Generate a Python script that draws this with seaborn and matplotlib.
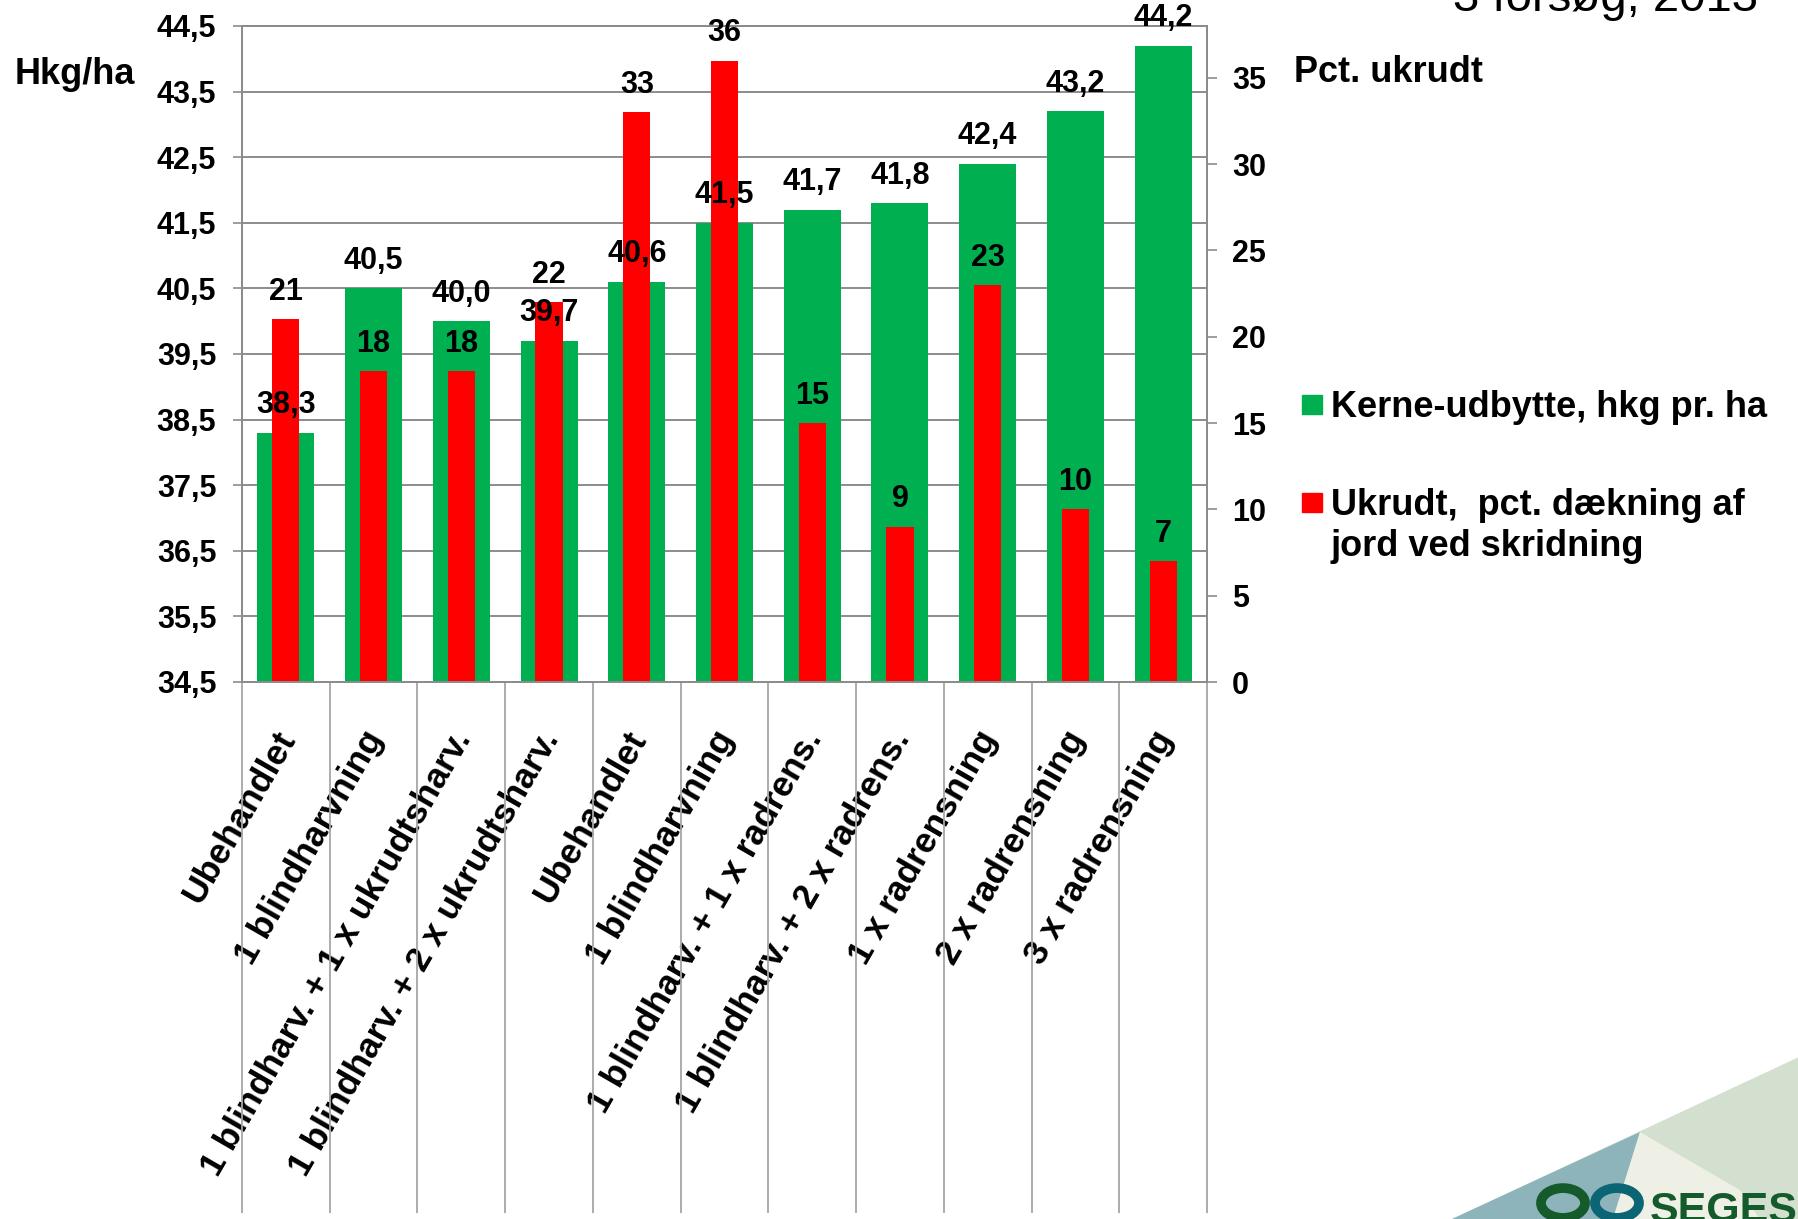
import numpy as np
import matplotlib
matplotlib.use("Agg")
import matplotlib.pyplot as plt
import matplotlib.transforms as mtransforms
from matplotlib.patches import Polygon, Rectangle, Circle
import seaborn as sns

# data
categories = ["Ubehandlet", "1 blindharvning", "1 blindharv. + 1 x ukrudtsharv.",
              "1 blindharv. + 2 x ukrudtsharv.", "Ubehandlet", "1 blindharvning",
              "1 blindharv. + 1 x radrens.", "1 blindharv. + 2 x radrens.",
              "1 x radrensning", "2 x radrensning", "3 x radrensning"]
yield_hkg = [38.3, 40.5, 40.0, 39.7, 40.6, 41.5, 41.7, 41.8, 42.4, 43.2, 44.2]
weed_pct = [21, 18, 18, 22, 33, 36, 15, 9, 23, 10, 7]
left_ticks = [34.5, 35.5, 36.5, 37.5, 38.5, 39.5, 40.5, 41.5, 42.5, 43.5, 44.5]
right_ticks = [0, 5, 10, 15, 20, 25, 30, 35]

GREEN = "#00B050"
RED = "#FF0000"
GRID = "#8c8c8c"
W, H = 1799, 1219

sns.set_theme(style="white")
plt.rcParams["font.family"] = ["Liberation Sans", "DejaVu Sans"]
plt.rcParams["font.weight"] = "bold"
plt.rcParams["text.color"] = "black"
plt.rcParams["xtick.color"] = "black"
plt.rcParams["ytick.color"] = "black"
plt.rcParams["xtick.labelcolor"] = "black"
plt.rcParams["ytick.labelcolor"] = "black"

fig = plt.figure(figsize=(W / 100, H / 100), dpi=100)
ax = fig.add_axes([242 / W, 1 - 682 / H, (1207 - 242) / W, (682 - 26) / H])
ax2 = ax.twinx()

pos = np.arange(len(categories))
sns.barplot(x=pos, y=yield_hkg, ax=ax, color=GREEN, saturation=1, width=0.65, linewidth=0)
sns.barplot(x=pos, y=weed_pct, ax=ax2, color=RED, saturation=1, width=0.31, linewidth=0)

for a in (ax, ax2):
    a.set_xlim(-0.5, len(categories) - 0.5)
    a.set_xlabel("")
    a.set_ylabel("")

ax.set_ylim(34.5, 44.5)
ax2.set_ylim(0, 38)

# left axis + grid
ax.set_yticks(left_ticks)
ax.set_yticklabels([f"{t:.1f}".replace(".", ",") for t in left_ticks])
ax.yaxis.grid(True, color=GRID, linewidth=1.4)
ax.set_axisbelow(True)
ax.tick_params(axis="y", which="major", length=6.5, width=1.2, color=GRID, pad=12,
               labelsize=22, left=True, labelcolor="black")

# right axis
ax2.set_yticks(right_ticks)
ax2.tick_params(axis="y", length=7, width=1.2, color=GRID, pad=11, labelsize=22,
                right=True, labelcolor="black")
ax2.grid(False)

for a in (ax, ax2):
    for s in a.spines.values():
        s.set_color(GRID)
        s.set_linewidth(1.4)

# category labels and long separator ticks
ax.set_xticks(pos)
ax.set_xticklabels(categories, rotation=60, ha="right", va="center",
                   rotation_mode="anchor", fontsize=25.5)
ax.set_xticks(np.arange(-0.5, len(categories), 1), minor=True)
ax.tick_params(axis="x", which="major", length=0, pad=37, labelcolor="black")
ax.tick_params(axis="x", which="minor", length=382, width=1.3, color="#a6a6a6",
               direction="out", bottom=True)
shift = mtransforms.ScaledTranslation(2 / 100, 0, fig.dpi_scale_trans)
for lab in ax.get_xticklabels():
    lab.set_transform(lab.get_transform() + shift)

# value labels (drawn on the top axes so they sit above all bars)
for i, v in enumerate(yield_hkg):
    ax2.annotate(f"{v:.1f}".replace(".", ","), xy=(i, v), xycoords=ax.transData,
                 xytext=(0, 14), textcoords="offset points", ha="center",
                 va="baseline", fontsize=22, color="black", annotation_clip=False)
for i, v in enumerate(weed_pct):
    ax2.annotate(f"{v}", xy=(i, v), xycoords=ax2.transData,
                 xytext=(0, 14), textcoords="offset points", ha="center",
                 va="baseline", fontsize=22, color="black", annotation_clip=False)

# axis titles
fig.text(15 / W, 1 - 84 / H, "Hkg/ha", fontsize=26, va="baseline", ha="left")
fig.text(1294 / W, 1 - 82 / H, "Pct. ukrudt", fontsize=26, va="baseline", ha="left")
fig.text(1453 / W, 1 - 11 / H, "3 forsøg, 2013", fontsize=34, fontweight="normal",
         va="baseline", ha="left")

# legend
fig.patches.append(Rectangle((1302 / W, 1 - 414 / H), 20 / W, 19 / H,
                             transform=fig.transFigure, color=GREEN))
fig.text(1331 / W, 1 - 417 / H, "Kerne-udbytte, hkg pr. ha", fontsize=26, va="baseline")
fig.patches.append(Rectangle((1302 / W, 1 - 512 / H), 20 / W, 19 / H,
                             transform=fig.transFigure, color=RED))
fig.text(1331 / W, 1 - 515 / H, "Ukrudt,  pct. dækning af", fontsize=26, va="baseline")
fig.text(1331 / W, 1 - 556 / H, "jord ved skridning", fontsize=26, va="baseline")


# logo corner
def px(x, y):
    return (x / W, 1 - y / H)


fig.patches.append(Polygon([px(1452, 1219), px(1799, 1057), px(1799, 1219)],
                           closed=True, transform=fig.transFigure,
                           facecolor="#d3dfcf", edgecolor="none"))
fig.patches.append(Polygon([px(1452, 1219), px(1640, 1132), px(1613, 1219)],
                           closed=True, transform=fig.transFigure,
                           facecolor="#8db4ba", edgecolor="none"))
fig.patches.append(Polygon([px(1640, 1132), px(1613, 1219), px(1760, 1219), px(1740, 1190)],
                           closed=True, transform=fig.transFigure,
                           facecolor="#eef0e6", edgecolor="none"))
fig.patches.append(Circle(px(1563, 1203), 22 / W, transform=fig.transFigure,
                          facecolor="none", edgecolor="#145a2a", linewidth=7))
fig.patches.append(Circle(px(1617, 1203), 22 / W, transform=fig.transFigure,
                          facecolor="none", edgecolor="#0b6574", linewidth=7))
fig.text(1650 / W, 1 - 1222 / H, "SEGES", fontsize=31, color="#145a2a",
         va="baseline", ha="left", fontstretch="condensed")

fig.savefig("out.png", dpi=100)
